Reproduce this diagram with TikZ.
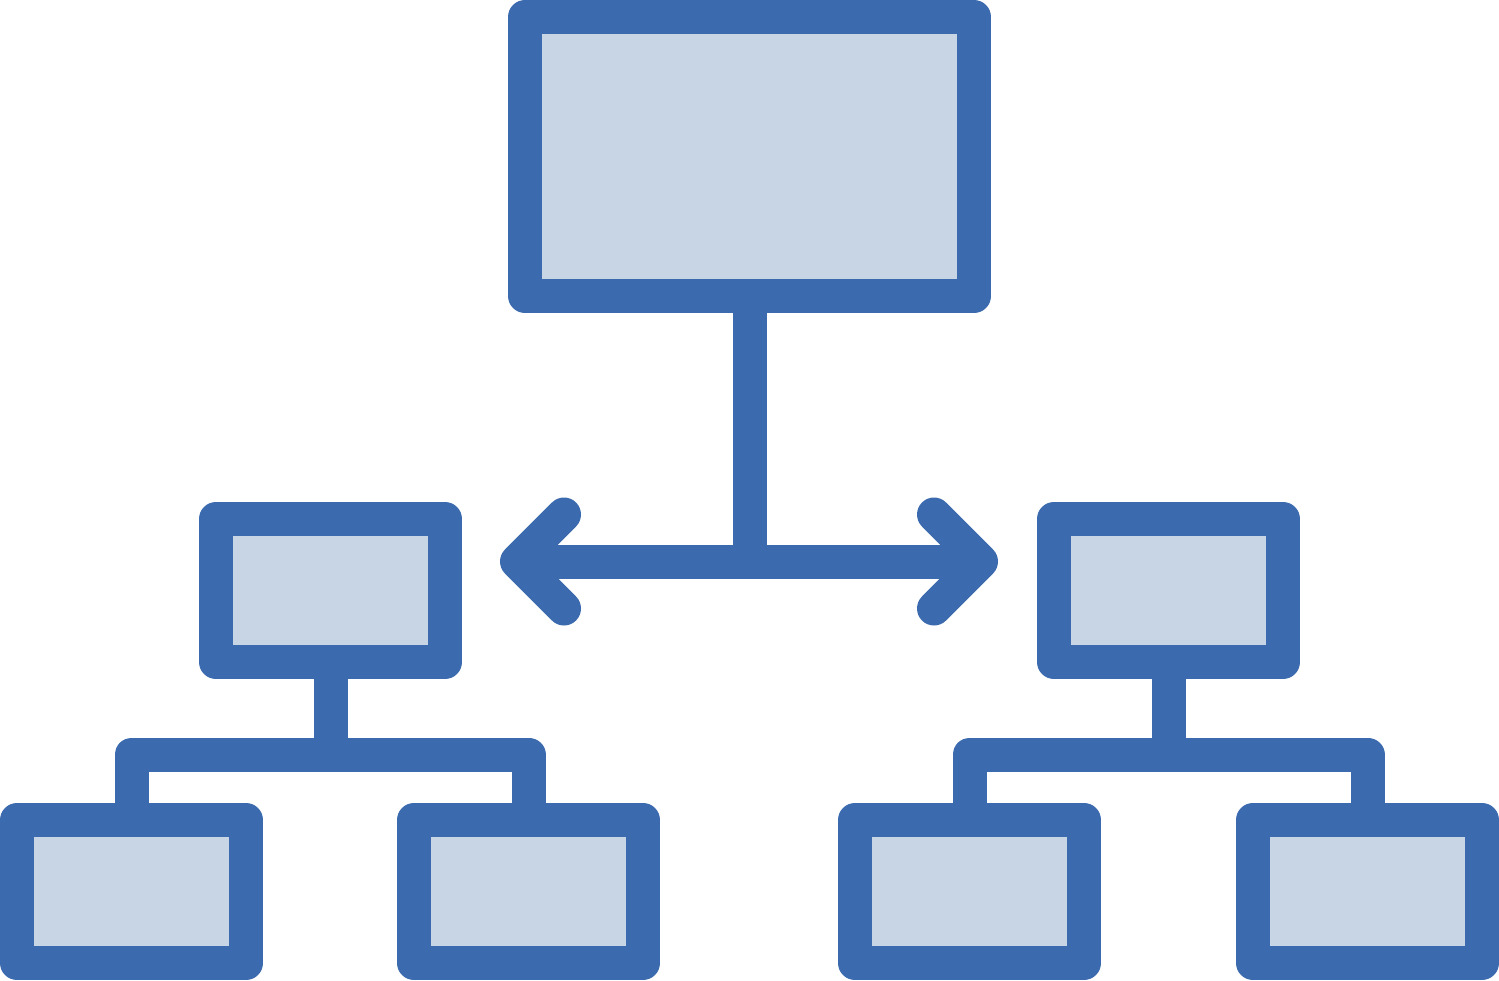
\documentclass[tikz,border=0pt]{standalone}
\definecolor{iconblue}{HTML}{3B6AAE}
\definecolor{iconfill}{HTML}{C8D5E5}
\begin{document}
\begin{tikzpicture}[x=1pt,y=-1pt,
  box/.style={draw=iconblue, fill=iconfill, line width=34pt, line join=round, inner sep=0pt, rectangle},
  bigbox/.style={box, minimum width=449pt, minimum height=279pt},
  smallbox/.style={box, minimum width=229pt, minimum height=143pt},
  link/.style={draw=iconblue, line width=34pt, line join=round},
  arm/.style={draw=iconblue, line width=34pt, line join=round, line cap=round}]
\useasboundingbox (0,0) rectangle (1499,980);
% boxes
\node[bigbox] (top) at (749.5,156.5) {};
\node[smallbox] (ml) at (330.5,590.5) {};
\node[smallbox] (mr) at (1168.5,590.5) {};
\node[smallbox] (b1) at (131.5,891.5) {};
\node[smallbox] (b2) at (528.5,891.5) {};
\node[smallbox] (b3) at (969.5,891.5) {};
\node[smallbox] (b4) at (1367.5,891.5) {};
% junctions
\coordinate (h) at (749.5,561.5);
\coordinate (la) at (517,561.5);
\coordinate (ra) at (981,561.5);
\coordinate (lu) at (564,514.5);
\coordinate (ld) at (564,608.5);
\coordinate (ru) at (934,514.5);
\coordinate (rd) at (934,608.5);
\coordinate (jl) at (330.5,754.5);
\coordinate (jr) at (1168.5,754.5);
% top connector and double arrow
\draw[link] (top.south) -- (h);
\draw[link] (la) -- (ra);
\draw[arm] (lu) -- (la) -- (ld);
\draw[arm] (ru) -- (ra) -- (rd);
% left subtree
\draw[link] (ml.south) -- (jl);
\draw[link] (b1.north) -- (b1.north |- jl) -- (b2.north |- jl) -- (b2.north);
% right subtree
\draw[link] (mr.south) -- (jr);
\draw[link] (b3.north) -- (b3.north |- jr) -- (b4.north |- jr) -- (b4.north);
\end{tikzpicture}
\end{document}
